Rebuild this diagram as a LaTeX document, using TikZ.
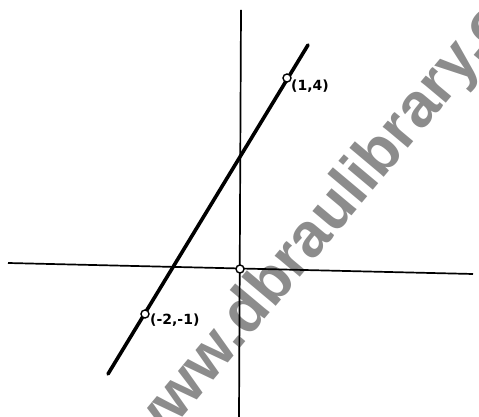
\documentclass[tikz,border=0pt]{standalone}
\usepackage{fontspec}
\setmainfont{DejaVu Sans}
\newfontfamily\wmfont{Liberation Sans}
\begin{document}
\begin{tikzpicture}[x=1pt,y=1pt,
  axis/.style={line width=1.7pt,black},
  graphline/.style={line width=3.6pt,black,line cap=round},
  pt/.style={circle,draw=black,fill=white,line width=1.4pt,inner sep=0pt,minimum size=8pt},
  lbl/.style={font=\fontsize{14}{15}\bfseries\selectfont,inner sep=0pt,anchor=west},
  wm/.style={font=\wmfont\bfseries\fontsize{62}{62}\selectfont,text=black!45,inner sep=0pt,anchor=base west,rotate=50}]
\useasboundingbox (0,0) rectangle (479,417);
\begin{scope}
\clip (0,0) rectangle (479,417);
\node[wm] (wmark) at (146,-44) {www.dbraulibrary.org};
\end{scope}
\coordinate (xl) at (8,154);
\coordinate (xr) at (473,143);
\coordinate (yt) at (241,407);
\coordinate (yb) at (239,0);
\coordinate (ls) at (108,43);
\coordinate (le) at (308,372);
\draw[axis] (xl) -- (xr);
\draw[axis] (yt) -- (yb);
\draw[graphline] (ls) -- (le);
\node[pt] (o) at (240,148) {};
\node[pt] (p1) at (287,339) {};
\node[pt] (p2) at (145,103) {};
\node[lbl] (l1) at (291,331) {(1,4)};
\node[lbl] (l2) at (150,97) {(-2,-1)};
\end{tikzpicture}
\end{document}
